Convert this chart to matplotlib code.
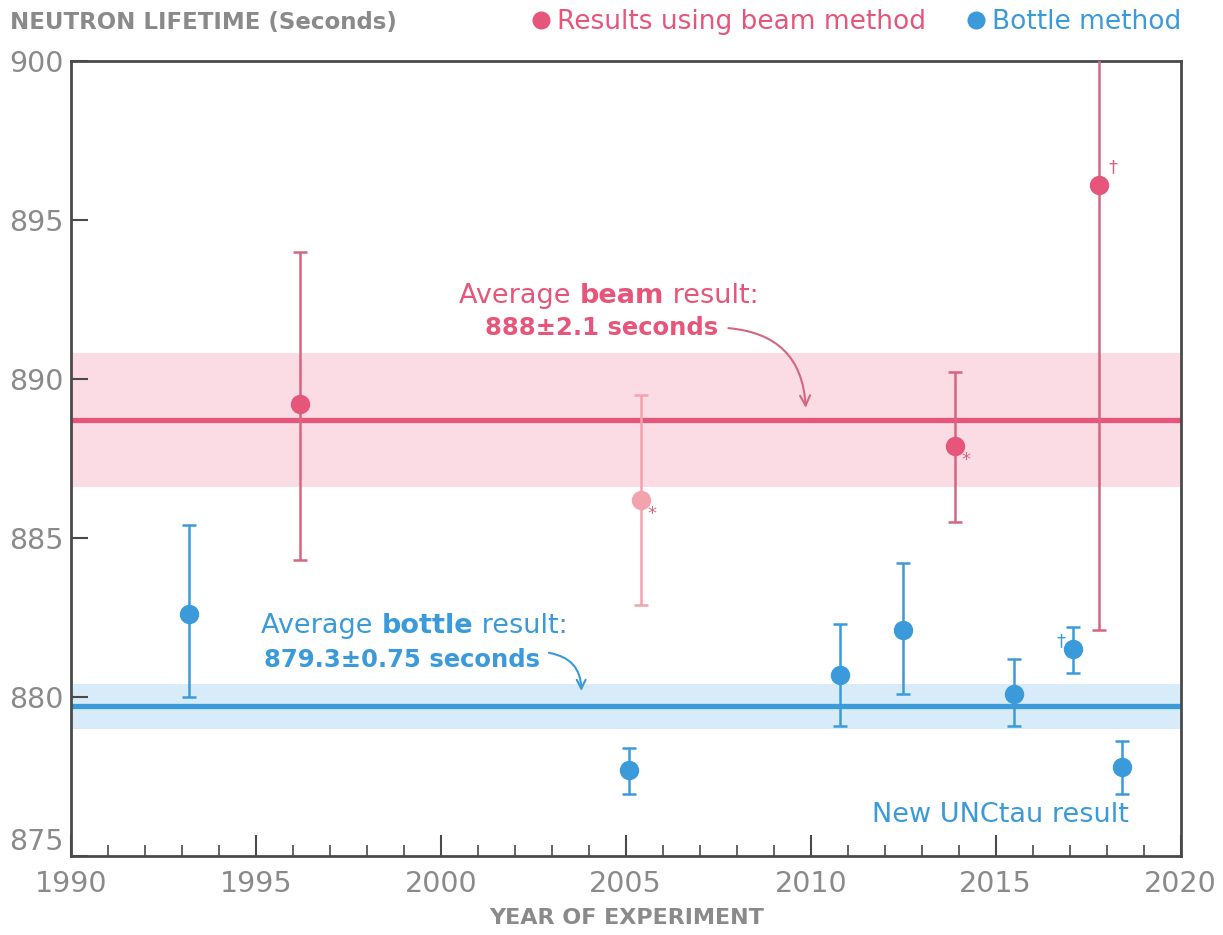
import matplotlib
matplotlib.use('Agg')
import matplotlib.pyplot as plt
from matplotlib.lines import Line2D

plt.rcParams['font.family'] = ['DejaVu Sans']

# beam method results (year, lifetime, lower / upper error)
beam_years = [1996.2, 2005.4, 2013.9, 2017.8]
beam_vals = [889.2, 886.2, 887.9, 896.1]
beam_err_lo = [4.9, 3.3, 2.4, 14.0]
beam_err_hi = [4.8, 3.3, 2.3, 14.0]
beam_faded = [False, True, False, False]
beam_marks = ['', '*', '*', '†']

# bottle method results
bottle_years = [1993.2, 2005.1, 2010.8, 2012.5, 2015.5, 2017.1, 2018.4]
bottle_vals = [882.6, 877.7, 880.7, 882.1, 880.1, 881.5, 877.8]
bottle_err_lo = [2.6, 0.75, 1.6, 2.0, 1.0, 0.75, 0.85]
bottle_err_hi = [2.8, 0.7, 1.6, 2.1, 1.1, 0.7, 0.8]
bottle_marks = ['', '', '', '', '', '†', '']

# averages (line position, half width of band)
beam_avg, beam_band = 888.7, 2.1
bottle_avg, bottle_band = 879.7, 0.72

x_ticks = [1990, 1995, 2000, 2005, 2010, 2015, 2020]
y_ticks = [875, 880, 885, 890, 895, 900]

pink = '#E6557A'
pink_dark = '#D4667F'
pink_light = '#F2A3AE'
pink_band = '#FBDCE4'
blue = '#3A9ADA'
blue_band = '#D8EBF8'
grey = '#8a8a8a'

fig = plt.figure(figsize=(12.23, 9.35), dpi=100)
ax = fig.add_axes([70.7/1223, 1-856/935, 1110/1223, (856-60.7)/935])

ax.set_xlim(1990, 2020)
ax.set_ylim(875, 900)

# bands and average lines
ax.axhspan(beam_avg - beam_band, beam_avg + beam_band, color=pink_band, lw=0, zorder=1)
ax.axhline(beam_avg, color=pink, lw=3.8, zorder=2)
ax.axhspan(bottle_avg - bottle_band, bottle_avg + bottle_band, color=blue_band, lw=0, zorder=1)
ax.axhline(bottle_avg, color=blue, lw=3.8, zorder=2)

# beam points
for x, y, lo, hi, faded, mk in zip(beam_years, beam_vals, beam_err_lo, beam_err_hi,
                                    beam_faded, beam_marks):
    ecol = pink_light if faded else pink_dark
    fcol = pink_light if faded else pink
    ax.errorbar([x], [y], yerr=[[lo], [hi]], fmt='none', ecolor=ecol,
                elinewidth=1.8, capsize=5, capthick=1.8, zorder=3)
    ax.plot([x], [y], 'o', ms=14, color=fcol, mec='none', zorder=4)
    if mk == '*':
        ax.annotate(mk, (x, y), xytext=(8, -10), textcoords='offset points',
                    color=pink_dark, fontsize=13, ha='center', va='center')
    elif mk == '†':
        ax.annotate(mk, (x, y), xytext=(10, 13), textcoords='offset points',
                    color=pink_dark, fontsize=13, ha='center', va='center')

# bottle points
ax.errorbar(bottle_years, bottle_vals, yerr=[bottle_err_lo, bottle_err_hi], fmt='none',
            ecolor=blue, elinewidth=1.8, capsize=5, capthick=1.8, zorder=3)
ax.plot(bottle_years, bottle_vals, 'o', ms=14, color=blue, mec='none', zorder=4)
for x, y, mk in zip(bottle_years, bottle_vals, bottle_marks):
    if mk:
        ax.annotate(mk, (x, y), xytext=(-9, 6), textcoords='offset points',
                    color=blue, fontsize=13, ha='center', va='center')


def chain_text(x, y, pieces, color, size):
    # write pieces side by side on one baseline, each with its own weight
    prev = None
    for txt, weight in pieces:
        if prev is None:
            prev = ax.text(x, y, txt, color=color, fontsize=size, fontweight=weight,
                           ha='left', va='baseline', zorder=6)
        else:
            prev = ax.annotate(txt, xy=(1, 0), xycoords=prev, color=color, fontsize=size,
                               fontweight=weight, ha='left', va='bottom', zorder=6)
    return prev


chain_text(2000.5, 892.38, [('Average ', 'normal'), ('beam', 'bold'), (' result:', 'normal')],
           pink, 19.5)
ax.text(2001.2, 891.37, '888±2.1 seconds', color=pink, fontsize=17.5, fontweight='bold',
        ha='left', va='baseline', zorder=6)
ax.annotate('', xy=(2009.87, 889.0), xytext=(2007.7, 891.6),
            arrowprops=dict(arrowstyle='->', color=pink_dark, lw=1.5,
                            connectionstyle='arc3,rad=-0.45', mutation_scale=18), zorder=6)

chain_text(1995.15, 882.0, [('Average ', 'normal'), ('bottle', 'bold'), (' result:', 'normal')],
           blue, 19.5)
ax.text(1995.23, 880.93, '879.3±0.75 seconds', color=blue, fontsize=17.5, fontweight='bold',
        ha='left', va='baseline', zorder=6)
ax.annotate('', xy=(2003.8, 880.1), xytext=(2002.85, 881.4),
            arrowprops=dict(arrowstyle='->', color=blue, lw=1.5,
                            connectionstyle='arc3,rad=-0.45', mutation_scale=16), zorder=6)

ax.text(2018.6, 876.3, 'New UNCtau result', color=blue, fontsize=19.5, ha='right',
        va='center', zorder=6)

# axes styling
for sp in ax.spines.values():
    sp.set_color('#4a4a4a')
    sp.set_linewidth(2)
ax.set_xticks(x_ticks)
ax.set_xticks(range(1991, 2020), minor=True)
ax.set_yticks(y_ticks)
ax.tick_params(axis='x', which='major', direction='in', length=15, width=1.5,
               color='#4a4a4a', labelsize=20.5, labelcolor=grey, pad=10)
ax.tick_params(axis='x', which='minor', direction='in', length=8, width=1.2, color='#4a4a4a')
ax.tick_params(axis='y', which='major', direction='in', length=12, width=1.5,
               color='#4a4a4a', labelsize=20.5, labelcolor=grey, pad=5)
# lift the bottom y label clear of the 1990 label
ax.get_yticklabels()[0].set_va('bottom')

# header and axis titles
fig.text(10/1223, 1-22/935, 'NEUTRON LIFETIME (Seconds)', color=grey, fontsize=16.5,
         fontweight='bold', ha='left', va='center')
fig.text(627/1223, 1-918/935, 'YEAR OF EXPERIMENT', color=grey, fontsize=16,
         fontweight='bold', ha='center', va='center')

handles = [Line2D([0], [0], marker='o', ls='none', ms=13, color=pink, mec='none'),
           Line2D([0], [0], marker='o', ls='none', ms=13, color=blue, mec='none')]
leg = fig.legend(handles, ['Results using beam method', 'Bottle method'], ncol=2,
                 loc='center right', bbox_to_anchor=(1181/1223, 1-22/935), frameon=False,
                 fontsize=19, handlelength=0.6, handletextpad=0.3, columnspacing=1.6,
                 borderaxespad=0, borderpad=0)
for t, c in zip(leg.get_texts(), [pink, blue]):
    t.set_color(c)

fig.savefig('out.png', dpi=100, facecolor='white')
